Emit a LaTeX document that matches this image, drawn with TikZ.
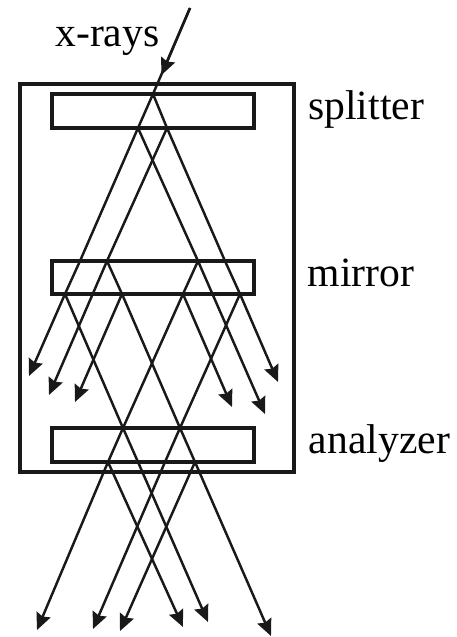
\documentclass[tikz,border=0pt]{standalone}
\usepackage{fontspec}
\setmainfont{Liberation Serif}
\usetikzlibrary{arrows.meta,positioning}

\tikzset{
    frame/.style={draw=black!90, line width=2.5pt},
    crystal/.style={draw=black!90, line width=2.3pt},
    ray/.style={draw=black!90, line width=1.4pt},
    rayend/.style={ray, -{Stealth[length=9.5pt,width=8.5pt,inset=1.2pt]}},
    lbl/.style={anchor=base west, inner sep=0pt, font=\fontsize{23.7}{26}\selectfont}
}

\begin{document}
\begin{tikzpicture}[x=0.02cm,y=-0.02cm]
    \useasboundingbox (0,0) rectangle (457,637);

    % Boxes
    \draw[frame] (20,84) rectangle (294,472);
    \draw[crystal] (52,94) rectangle (254,128);
    \draw[crystal] (52,261) rectangle (254,294);
    \draw[crystal] (52,428) rectangle (254,462);

    % Labels
    \node[lbl] (xrays) at (55,46) {x-rays};
    \node[lbl] (splitter) at (308,119) {splitter};
    \node[lbl] (mirror) at (307.5,286) {mirror};
    \node[lbl] (analyzer) at (308.5,453) {analyzer};

    % Points on the splitter
    \coordinate (in) at (190,8);
    \coordinate (tip) at (161.5,75);
    \coordinate (s0) at (153,94);
    \coordinate (s1) at (138,128);
    \coordinate (s2) at (167,128);
    % Points on the mirror
    \coordinate (m1) at (80,261);
    \coordinate (m2) at (107,261);
    \coordinate (m3) at (198,261);
    \coordinate (m4) at (225,261);
    \coordinate (m5) at (65,294);
    \coordinate (m6) at (122,294);
    \coordinate (m7) at (183,294);
    \coordinate (m8) at (240,294);
    % Points on the analyzer
    \coordinate (a1) at (123,428);
    \coordinate (a2) at (180,428);
    \coordinate (a3) at (108,462);
    \coordinate (a4) at (138,462);
    \coordinate (a5) at (165,462);
    \coordinate (a6) at (195,462);
    % Arrow ends
    \coordinate (e1) at (29,376);
    \coordinate (e2) at (49,395);
    \coordinate (e3) at (75,402);
    \coordinate (e4) at (232,407);
    \coordinate (e5) at (265,414);
    \coordinate (e6) at (278,382);
    \coordinate (f1) at (37,630);
    \coordinate (f2) at (93,629);
    \coordinate (f3) at (120,631);
    \coordinate (f4) at (183,627);
    \coordinate (f5) at (208,622);
    \coordinate (f6) at (271,636);

    % Incoming ray
    \draw[ray] (in) -- (s0);
    \draw[rayend] (in) -- (tip);

    % Splitter to mirror
    \draw[ray] (s0) -- (s1);
    \draw[ray] (s0) -- (s2);
    \draw[ray] (s1) -- (m1);
    \draw[ray] (s2) -- (m2);
    \draw[ray] (s1) -- (m3);
    \draw[ray] (s2) -- (m4);

    % Mirror
    \draw[ray] (m1) -- (m5);
    \draw[ray] (m2) -- (m6);
    \draw[ray] (m3) -- (m7);
    \draw[ray] (m4) -- (m8);
    \draw[rayend] (m5) -- (e1);
    \draw[rayend] (m2) -- (e2);
    \draw[rayend] (m6) -- (e3);
    \draw[rayend] (m7) -- (e4);
    \draw[rayend] (m3) -- (e5);
    \draw[rayend] (m8) -- (e6);

    % Mirror to analyzer
    \draw[ray] (m5) -- (a1);
    \draw[ray] (m7) -- (a1);
    \draw[ray] (m6) -- (a2);
    \draw[ray] (m8) -- (a2);

    % Analyzer
    \draw[ray] (a1) -- (a3);
    \draw[ray] (a1) -- (a4);
    \draw[ray] (a2) -- (a5);
    \draw[ray] (a2) -- (a6);
    \draw[rayend] (a3) -- (f1);
    \draw[rayend] (a5) -- (f2);
    \draw[rayend] (a6) -- (f3);
    \draw[rayend] (a3) -- (f4);
    \draw[rayend] (a4) -- (f5);
    \draw[rayend] (a6) -- (f6);
\end{tikzpicture}
\end{document}
